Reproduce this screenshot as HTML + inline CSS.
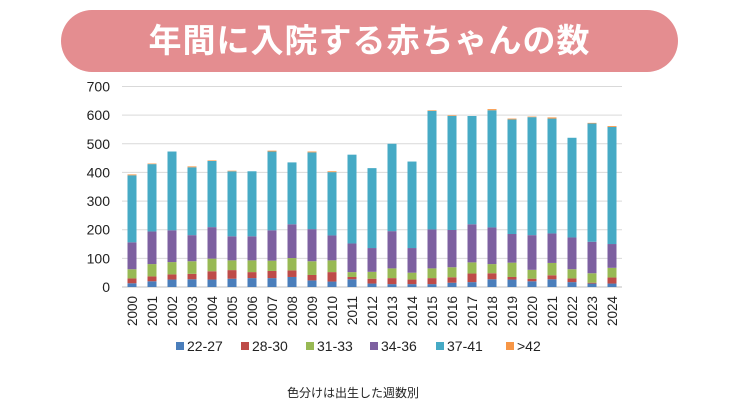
<!DOCTYPE html>
<html><head><meta charset="utf-8"><style>
html,body{margin:0;padding:0;background:#fff;}
body{width:736px;height:414px;overflow:hidden;position:relative;font-family:"Liberation Sans","Noto Sans CJK JP",sans-serif;}
.pill{position:absolute;left:61px;top:10px;width:617px;height:62px;border-radius:31px;background:#e48d90;color:#fff;font-size:33px;font-weight:bold;text-align:center;line-height:62px;letter-spacing:1px;}
svg{position:absolute;left:0;top:0;}
</style></head><body>
<div class="pill">年間に入院する赤ちゃんの数</div>
<svg id="s" width="736" height="414" font-family="Liberation Sans, Noto Sans CJK JP, sans-serif"></svg>
<script>
var d=[[13,30,62,156,390,393],[20,37,80,194,429,431],[26,44,87,198,473,473],[27,46,90,181,418,421],[26,55,99,209,440,442],[29,59,93,177,404,406],[31,52,93,177,404,404],[31,56,92,198,473,476],[35,58,101,219,435,435],[23,42,90,202,470,473],[19,52,93,180,401,404],[27,35,52,152,462,462],[12,29,53,136,415,415],[10,31,65,195,500,500],[10,26,50,136,438,438],[10,31,65,201,615,617],[15,34,69,199,597,599],[17,47,86,219,597,597],[27,48,80,208,617,621],[26,35,85,185,585,588],[20,29,60,181,593,595],[27,41,84,187,588,592],[17,30,62,173,521,521],[12,15,48,158,571,573],[12,33,67,150,559,562]];
var c=["#4a7ebb","#be4b48","#98b954","#7d60a0","#46aac5","#f79646"];
var h="",y0=287,k=200.5/700;
for(var g=0;g<=7;g++){var y=y0-g*100*k;h+='<line x1="122" x2="622" y1="'+y+'" y2="'+y+'" stroke="'+(g?"#d9d9d9":"#bfbfbf")+'" stroke-width="1"/>';h+='<text x="110" y="'+(y+5)+'" font-size="14" text-anchor="end" fill="#222">'+g*100+'</text>';}
d.forEach(function(r,i){var cx=132+i*20,p=0;r.forEach(function(v,j){if(v>p){h+='<rect x="'+(cx-4.5)+'" y="'+(y0-v*k)+'" width="9" height="'+((v-p)*k)+'" fill="'+c[j]+'"/>';}p=Math.max(p,v);});
h+='<text transform="translate('+(cx+5)+',296) rotate(-90)" font-size="13.5" text-anchor="end" fill="#222">'+(2000+i)+'</text>';});
var L=["22-27","28-30","31-33","34-36","37-41",">42"],X=[176,241,306,370,436,506];
L.forEach(function(t,i){h+='<rect x="'+X[i]+'" y="342" width="8" height="8" fill="'+c[i]+'"/><text x="'+(X[i]+11)+'" y="351" font-size="14" fill="#222">'+t+'</text>';});
h+='<text x="353" y="397" font-size="12" text-anchor="middle" fill="#222">色分けは出生した週数別</text>';
document.getElementById("s").innerHTML=h;
</script>
</body></html>
